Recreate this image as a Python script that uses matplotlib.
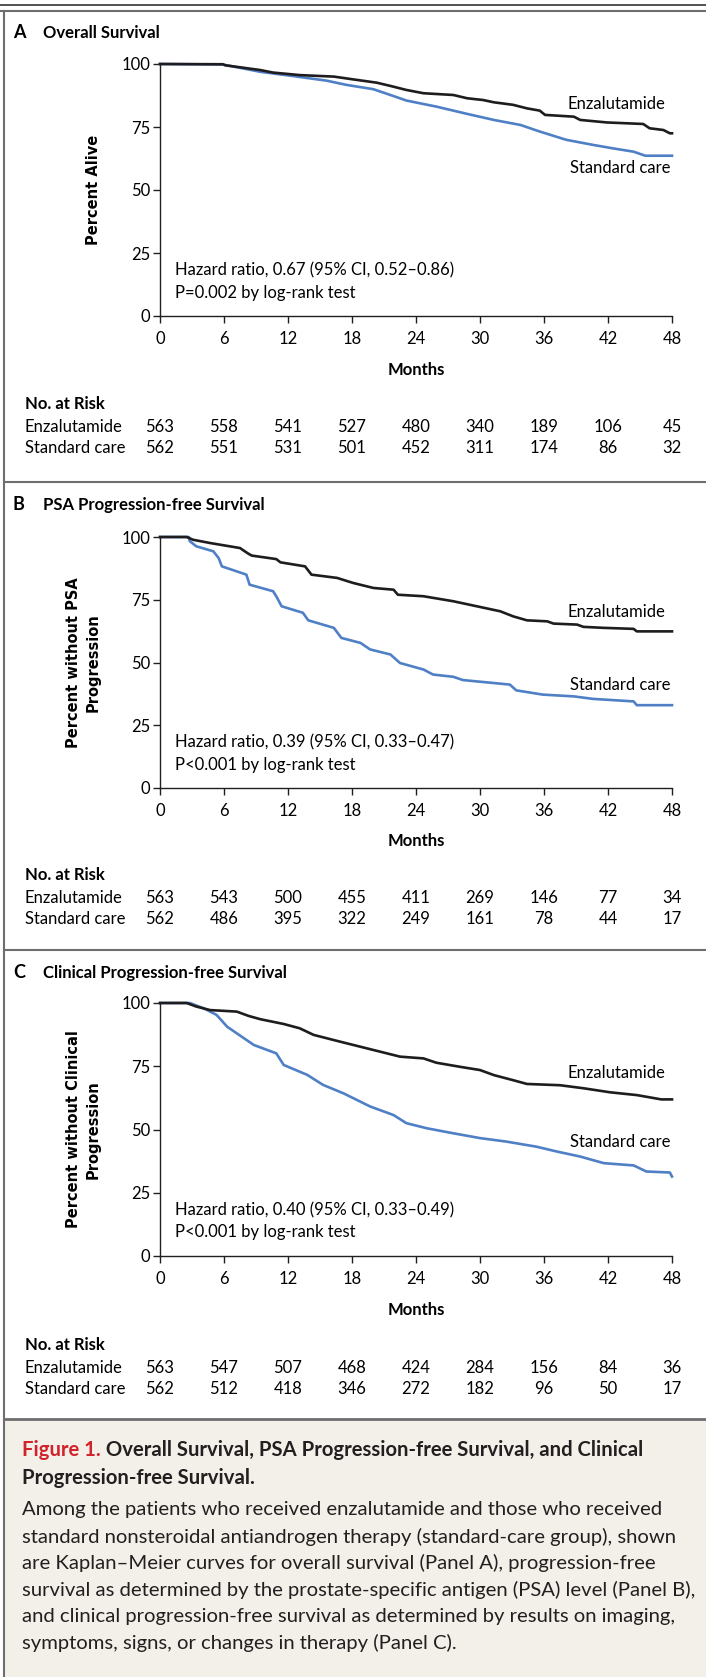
# Kaplan-Meier curves, three panels plus caption box
import matplotlib.pyplot as plt
from matplotlib.lines import Line2D
from matplotlib.patches import Rectangle
import matplotlib.transforms as mtransforms

plt.rcParams['font.family'] = ['Lato', 'DejaVu Sans']

# Panel A - overall survival
a_enz_t = [0, 5.9, 6.1, 9.4, 10.6, 13.1, 16.3, 18.1, 20.3, 21.6, 23.1, 24.7, 27.5, 28.8, 30.3, 31.3,
           33.1, 34.4, 35.6, 36.1, 38.8, 39.4, 41.9, 45.3, 45.9, 47.2, 47.8, 48]
a_enz_s = [100, 99.9, 99.5, 97.6, 96.6, 95.6, 95.0, 93.9, 92.6, 91.3, 89.7, 88.4, 87.7, 86.4, 85.7, 84.8,
           83.8, 82.4, 81.5, 79.8, 79.1, 77.8, 76.8, 76.2, 74.5, 73.8, 72.5, 72.5]
a_std_t = [0, 5.9, 9.4, 12.5, 15.6, 17.5, 20, 21.6, 23.1, 25.9, 28.8, 31.3, 33.8, 35.6, 38.1, 40.6,
           42.5, 44.4, 45.5, 48]
a_std_s = [100, 99.8, 96.9, 95.2, 93.4, 91.7, 90.0, 87.7, 85.5, 83.1, 80.2, 77.8, 75.8, 73.2, 69.9, 67.9,
           66.5, 65.2, 63.6, 63.6]

# Panel B - PSA progression-free survival
b_enz_t = [0, 2.5, 3.1, 4.7, 7.5, 8.3, 8.6, 10.9, 11.3, 13.6, 14.2, 16.6, 18.1, 20, 21.9, 22.3, 24.7,
           27.5, 29.7, 31.9, 33.1, 34.4, 36.3, 36.9, 39.1, 39.7, 41.6, 44.4, 44.7, 48]
b_enz_s = [100, 100, 98.9, 97.6, 95.6, 93.3, 92.6, 91.2, 89.9, 88.3, 85.0, 83.7, 81.7, 79.7, 79.0, 77.0, 76.4,
           74.4, 72.4, 70.4, 68.4, 66.8, 66.4, 65.5, 65.1, 64.2, 63.8, 63.4, 62.4, 62.4]
b_std_t = [0, 2.7, 2.8, 3.4, 5, 5.5, 5.8, 7.2, 8.1, 8.4, 10.6, 10.9, 11.4, 13.4, 13.9, 16.3, 17, 18.8,
           19.7, 21.6, 22.5, 24.7, 25.6, 27.5, 28.4, 32.8, 33.4, 35.9, 38.8, 40.6, 44.4, 44.7, 48]
b_std_s = [100, 100, 98.3, 96.3, 94.3, 91.6, 88.3, 86.3, 85.0, 81.0, 78.4, 76.4, 72.4, 69.8, 66.8, 63.8, 59.8, 57.8,
           55.2, 53.2, 49.8, 47.2, 45.2, 44.3, 43.0, 41.2, 38.9, 37.2, 36.5, 35.5, 34.5, 33.0, 33.0]

# Panel C - clinical progression-free survival
c_enz_t = [0, 2.5, 3.4, 4.7, 7.2, 8.3, 9.4, 11.6, 13.1, 14.4, 16.9, 18.8, 20.6, 22.5, 24.7, 25.9, 28.1,
           30, 31.3, 33.1, 34.4, 37.5, 39.7, 42.2, 44.7, 47, 48]
c_enz_s = [100, 100, 98.6, 97.2, 96.6, 94.9, 93.6, 91.7, 90.0, 87.4, 84.7, 82.7, 80.8, 78.8, 78.1, 76.4, 74.8,
           73.5, 71.5, 69.5, 68.0, 67.5, 66.3, 64.7, 63.6, 61.9, 61.9]
c_std_t = [0, 2.8, 4.1, 5.3, 6.3, 8.8, 10.9, 11.6, 13.8, 15.3, 17.2, 19.7, 21.9, 23.1, 25, 27.5, 30,
           32.5, 35.3, 37.2, 39.4, 41.6, 44.4, 45.6, 47.8, 48]
c_std_s = [100, 100, 97.9, 95.3, 90.6, 83.4, 80.1, 75.5, 71.6, 67.6, 64.3, 59.1, 55.7, 52.5, 50.5, 48.5, 46.6,
           45.2, 43.2, 41.3, 39.3, 36.7, 35.8, 33.4, 33.0, 31.4]

months = [0, 6, 12, 18, 24, 30, 36, 42, 48]
risk_a_enz = [563, 558, 541, 527, 480, 340, 189, 106, 45]
risk_a_std = [562, 551, 531, 501, 452, 311, 174, 86, 32]
risk_b_enz = [563, 543, 500, 455, 411, 269, 146, 77, 34]
risk_b_std = [562, 486, 395, 322, 249, 161, 78, 44, 17]
risk_c_enz = [563, 547, 507, 468, 424, 284, 156, 84, 36]
risk_c_std = [562, 512, 418, 346, 272, 182, 96, 50, 17]

panels = [
    ("A", "Overall Survival", "Percent Alive",
     a_enz_t, a_enz_s, a_std_t, a_std_s, risk_a_enz, risk_a_std,
     ["Hazard ratio, 0.67 (95% CI, 0.52\u20130.86)", "P=0.002 by log-rank test"], 84.1, 58.7),
    ("B", "PSA Progression-free Survival", "Percent without PSA\nProgression",
     b_enz_t, b_enz_s, b_std_t, b_std_s, risk_b_enz, risk_b_std,
     ["Hazard ratio, 0.39 (95% CI, 0.33\u20130.47)", "P<0.001 by log-rank test"], 70.2, 41.1),
    ("C", "Clinical Progression-free Survival", "Percent without Clinical\nProgression",
     c_enz_t, c_enz_s, c_std_t, c_std_s, risk_c_enz, risk_c_std,
     ["Hazard ratio, 0.40 (95% CI, 0.33\u20130.49)", "P<0.001 by log-rank test"], 72.3, 44.9),
]

W, H = 706, 1677
fig = plt.figure(figsize=(W / 100, H / 100), dpi=100)

def fx(px):
    return px / W

def fy(py):
    return 1 - py / H

black = "#1f1c1d"
blue = "#4f80c6"
frame = "#6e6e70"
fs = 12

# frame lines
fig.add_artist(Line2D([0, 1], [fy(4.5), fy(4.5)], color="#333333", lw=1.2))
fig.add_artist(Line2D([0, 1], [fy(11), fy(11)], color=frame, lw=1.5))
fig.add_artist(Line2D([fx(3.5), fx(3.5)], [0, fy(11)], color=frame, lw=1.5))
for yline in [482, 950]:
    fig.add_artist(Line2D([fx(3.5), 1], [fy(yline), fy(yline)], color=frame, lw=1.5))
fig.add_artist(Rectangle((fx(3.5), 0), 1, fy(1419), color="#f3f0ea", zorder=0))
fig.add_artist(Line2D([fx(3.5), 1], [fy(1419), fy(1419)], color=frame, lw=2))

# pixel positions of each panel: title y, axes top, axes bottom, months y, risk rows y
layout = [
    (33, 64, 316, 370, 404, 427, 448),
    (505, 537, 788, 841, 875, 898, 919),
    (973, 1003, 1256, 1310, 1345, 1368, 1389),
]

for p, lay in zip(panels, layout):
    letter, title, ylab, et, es, st, ss, renz, rstd, hz, ey, sy = p
    ty, top, bot, my, nry, r1, r2 = lay
    ax = fig.add_axes([fx(160), fy(bot), fx(672 - 160), (bot - top) / H])
    ax.plot(st, ss, color=blue, lw=1.9, clip_on=False)
    ax.plot(et, es, color=black, lw=1.9, clip_on=False)
    ax.set_xlim(0, 48)
    ax.set_ylim(0, 100)
    ax.set_xticks(months)
    ax.set_yticks([0, 25, 50, 75, 100])
    ax.patch.set_alpha(0)
    for s in ["top", "right"]:
        ax.spines[s].set_visible(False)
    for s in ["left", "bottom"]:
        ax.spines[s].set_linewidth(1.0)
        ax.spines[s].set_color("#231f20")
    ax.tick_params(direction="out", length=5, width=1, labelsize=fs, pad=2, color="#231f20")
    ax.tick_params(axis="x", pad=6)
    ax.text(47.4, ey, "Enzalutamide", ha="right", va="center", fontsize=fs)
    ax.text(47.9, sy, "Standard care", ha="right", va="center", fontsize=fs)
    ax.text(1.4, 18.0, hz[0], ha="left", va="center", fontsize=fs)
    ax.text(1.4, 9.3, hz[1], ha="left", va="center", fontsize=fs)

    fig.text(fx(13), fy(ty), letter, fontsize=13, fontweight="bold", va="center")
    fig.text(fx(43), fy(ty), title, fontsize=12, fontweight="bold", va="center")
    fig.text(fx(101), fy((top + bot) / 2), ylab, rotation=90, ha="right", va="center",
             fontsize=10.5, fontweight="bold", family=["DejaVu Sans"], multialignment="center",
             linespacing=1.45)
    fig.text(fx(416), fy(my), "Months", ha="center", va="center", fontsize=fs, fontweight="bold")
    fig.text(fx(25), fy(nry), "No. at Risk", va="center", fontsize=fs, fontweight="bold")
    fig.text(fx(25), fy(r1), "Enzalutamide", va="center", fontsize=fs)
    fig.text(fx(25), fy(r2), "Standard care", va="center", fontsize=fs)
    trans = mtransforms.blended_transform_factory(ax.transData, fig.transFigure)
    for m, n1, n2 in zip(months, renz, rstd):
        fig.text(m, fy(r1), str(n1), ha="center", va="center", fontsize=fs, transform=trans)
        fig.text(m, fy(r2), str(n2), ha="center", va="center", fontsize=fs, transform=trans)

# caption
cap_fs = 14.6
t1 = fig.text(fx(22), fy(1450), "Figure 1.", color="#d2232a", fontsize=cap_fs, fontweight="bold",
              va="center")
plt.annotate(" Overall Survival, PSA Progression-free Survival, and Clinical",
             xy=(1, 0), xycoords=t1, va="bottom", ha="left", fontsize=cap_fs,
             fontweight="bold", annotation_clip=False, color="#231f20")
fig.text(fx(22), fy(1478), "Progression-free Survival.", fontsize=cap_fs, fontweight="bold",
         va="center", color="#231f20")
body = [
    "Among the patients who received enzalutamide and those who received",
    "standard nonsteroidal antiandrogen therapy (standard-care group), shown",
    "are Kaplan\u2013Meier curves for overall survival (Panel A), progression-free",
    "survival as determined by the prostate-specific antigen (PSA) level (Panel B),",
    "and clinical progression-free survival as determined by results on imaging,",
    "symptoms, signs, or changes in therapy (Panel C).",
]
for i, line in enumerate(body):
    fig.text(fx(22), fy(1510 + i * 26.6), line, fontsize=cap_fs, va="center", color="#231f20")

fig.savefig("out.png", dpi=100)
